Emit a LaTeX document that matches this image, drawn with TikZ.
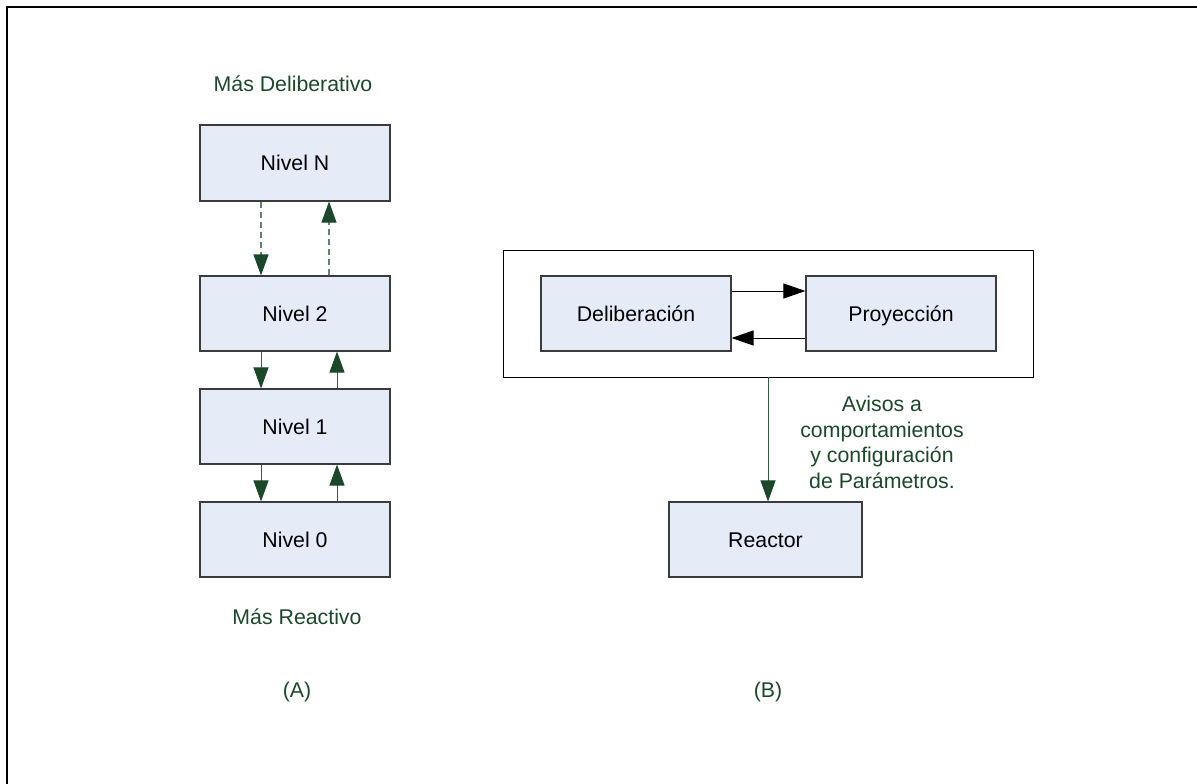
\documentclass[tikz,border=0pt]{standalone}
\usepackage{fontspec}
\setmainfont{Liberation Sans}
\usetikzlibrary{arrows.meta}
\definecolor{boxfill}{RGB}{230,236,247}
\definecolor{boxline}{RGB}{60,60,60}
\definecolor{darkgreen}{RGB}{28,72,42}
\definecolor{shaftgreen}{RGB}{50,95,65}
\definecolor{dashgreen}{RGB}{100,130,110}
\tikzset{
  levelbox/.style={draw=boxline, line width=1.1pt, fill=boxfill,
    minimum width=190pt, minimum height=75pt, inner sep=0pt,
    text height=15.5pt, text depth=0pt,
    font=\fontsize{21.3}{25.5}\selectfont},
  greentext/.style={text=darkgreen, align=center,
    font=\fontsize{21.3}{25.5}\selectfont},
  greenarrow/.style={draw=shaftgreen, line width=1pt,
    -{Triangle[length=21pt,width=15pt,fill=darkgreen,color=darkgreen]}},
  dasharrow/.style={greenarrow, draw=dashgreen, line width=1.1pt,
    dash pattern=on 6pt off 4pt},
  blackarrow/.style={draw=black, line width=1pt,
    -{Triangle[length=22pt,width=15pt,fill=black]}}
}
\begin{document}
\begin{tikzpicture}[x=1pt,y=-1pt]
\useasboundingbox (0,0) rectangle (1197,784);
% page frame (top and left edges)
\draw[line width=2.2pt] (7,784) -- (7,7) -- (1197,7);

% ---------- (A) layered stack ----------
\node[greentext] (masdelib) at (293,84) {Más Deliberativo};
\node[levelbox] (nN) at (295,163) [minimum height=76pt] {Nivel N};
\node[levelbox] (n2) at (295,313.5) {Nivel 2};
\node[levelbox] (n1) at (295,426.5) {Nivel 1};
\node[levelbox] (n0) at (295,539.5) {Nivel 0};
\node[greentext] (masreact) at (297,617) {Más Reactivo};
\node[greentext] (labA) at (297,692) {(A)};

\coordinate (down) at (261,0);
\coordinate (updash) at (329,0);
\coordinate (up) at (337,0);

\draw[dasharrow] (nN.south -| down) -- (n2.north -| down);
\draw[dasharrow] (n2.north -| updash) -- (nN.south -| updash);
\draw[greenarrow] (n2.south -| down) -- (n1.north -| down);
\draw[greenarrow] (n1.north -| up) -- (n2.south -| up);
\draw[greenarrow] (n1.south -| down) -- (n0.north -| down);
\draw[greenarrow] (n0.north -| up) -- (n1.south -| up);

% ---------- (B) deliberative layer over reactor ----------
\node[draw=black, line width=0.9pt, fill=white, minimum width=530pt,
  minimum height=127pt, inner sep=0pt] (outer) at (768,313.5) {};
\node[levelbox] (delib) at (636,313.5) {Deliberación};
\node[levelbox] (proy) at (901,313.5) {Proyección};
\coordinate (upper) at (0,291);
\coordinate (lower) at (0,338);
\draw[blackarrow] (delib.east |- upper) -- (proy.west |- upper);
\draw[blackarrow] (proy.west |- lower) -- (delib.east |- lower);

\node[levelbox] (reactor) at (765.5,539.5) [minimum width=193pt] {Reactor};
\coordinate (feed) at (768,0);
\draw[greenarrow] (outer.south -| feed) -- (reactor.north -| feed);
\node[greentext] (avisos) at (882,442.5)
  {Avisos a\\comportamientos\\y configuración\\de Parámetros.};
\node[greentext] (labB) at (768,692) {(B)};
\end{tikzpicture}
\end{document}
